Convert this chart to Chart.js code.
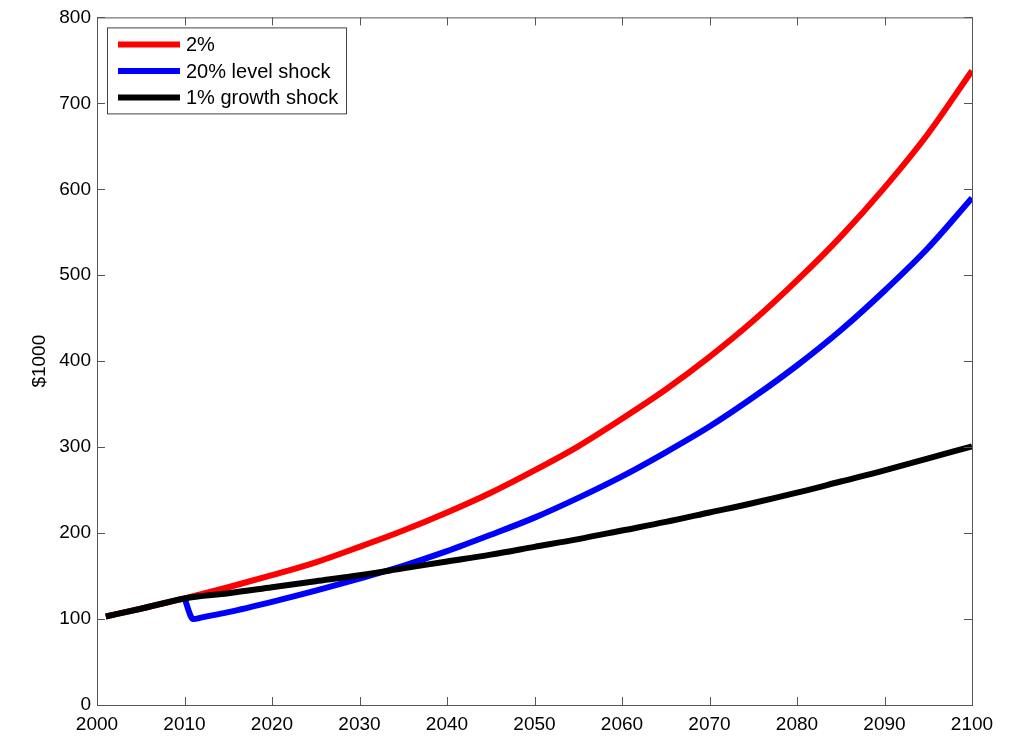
<!DOCTYPE html>
<html>
<head>
<meta charset="utf-8">
<style>
html,body{margin:0;padding:0;background:#fff;}
#wrap{width:1024px;height:743px;}
</style>
<script src="https://cdn.jsdelivr.net/npm/chart.js@4"></script>
</head>
<body>
<div id="wrap"><canvas id="c" width="1024" height="743"></canvas></div>
<script>
// Data
const redYears   = [2001,2005,2010,2015,2020,2025,2030,2035,2040,2045,2050,2055,2060,2065,2070,2075,2080,2085,2090,2095,2100];
const redValues  = [103, 112, 124, 137, 151, 166, 184, 203, 224, 247, 273, 301, 333, 367, 405, 447, 494, 545, 602, 665, 738];
const blueYears  = [2010,2011,2012,2015,2020,2025,2030,2035,2040,2045,2050,2055,2060,2065,2070,2075,2080,2085,2090,2095,2100];
const blueValues = [124, 100, 102, 108, 120, 133, 147, 162, 179, 198, 218, 241, 266, 294, 324, 358, 395, 436, 482, 532, 590];
const blackYears = [2001,2005,2010,2015,2020,2025,2030,2035,2040,2045,2050,2055,2060,2065,2070,2075,2080,2085,2090,2095,2100];
const blackValues= [103, 112, 124, 130, 137, 144, 151, 159, 167, 175, 184, 193, 203, 213, 224, 235, 247, 260, 273, 287, 301];
const seriesNames = ['2%','20% level shock','1% growth shock'];
const xTicks = [2000,2010,2020,2030,2040,2050,2060,2070,2080,2090,2100];
const yTicks = [0,100,200,300,400,500,600,700,800];

const pts = (xs, ys) => xs.map((x,i)=>({x:x, y:ys[i]}));
const FONT = "'Liberation Sans', Arial, sans-serif";

const boxPlugin = {
  id:'box',
  afterDraw(chart){
    const {ctx, chartArea:a, scales} = chart;
    ctx.save();
    ctx.strokeStyle = '#555';
    ctx.lineWidth = 1;
    ctx.strokeRect(a.left+0.5, a.top+0.5, a.right-a.left, a.bottom-a.top);
    const tl = 8;
    ctx.beginPath();
    xTicks.forEach(v=>{
      const px = Math.round(scales.x.getPixelForValue(v))+0.5;
      ctx.moveTo(px, a.bottom); ctx.lineTo(px, a.bottom-tl);
      ctx.moveTo(px, a.top); ctx.lineTo(px, a.top+tl);
    });
    yTicks.forEach(v=>{
      const py = Math.round(scales.y.getPixelForValue(v))+0.5;
      ctx.moveTo(a.left, py); ctx.lineTo(a.left+tl, py);
      ctx.moveTo(a.right, py); ctx.lineTo(a.right-tl, py);
    });
    ctx.stroke();
    // legend
    const lx = a.left+10, ly = a.top+10, lw = 239, lh = 86;
    ctx.fillStyle='#fff';
    ctx.fillRect(lx, ly, lw, lh);
    ctx.strokeStyle='#444';
    ctx.lineWidth = 1;
    ctx.strokeRect(lx+0.5, ly+0.5, lw, lh);
    ctx.font = '20px ' + FONT;
    ctx.textBaseline='middle';
    chart.data.datasets.forEach((ds,i)=>{
      const yy = ly + 17 + i*26.6;
      ctx.strokeStyle = ds.borderColor;
      ctx.lineWidth = 6;
      ctx.beginPath(); ctx.moveTo(lx+11, yy); ctx.lineTo(lx+73, yy); ctx.stroke();
      ctx.fillStyle='#000';
      ctx.fillText(ds.label, lx+79, yy+1);
    });
    ctx.restore();
  }
};

const common = {borderWidth:6, pointRadius:0, fill:false, cubicInterpolationMode:'monotone'};
new Chart(document.getElementById('c'), {
  type:'line',
  data:{datasets:[
    Object.assign({label:seriesNames[0], data:pts(redYears,redValues), borderColor:'#ff0000', order:3}, common),
    Object.assign({label:seriesNames[1], data:pts(blueYears,blueValues), borderColor:'#0000ff', order:2}, common),
    Object.assign({label:seriesNames[2], data:pts(blackYears,blackValues), borderColor:'#000000', order:1}, common)
  ]},
  options:{
    responsive:false, animation:false,
    layout:{padding:{left:28, top:15, right:52, bottom:0}},
    plugins:{legend:{display:false}, tooltip:{enabled:false}},
    scales:{
      x:{type:'linear', min:2000, max:2100,
        afterBuildTicks(s){ s.ticks = xTicks.map(v=>({value:v})); },
        afterFit(s){ s.height = 38; },
        grid:{display:false, drawTicks:false}, border:{display:false},
        ticks:{color:'#000', font:{family:FONT, size:19}, padding:8, maxRotation:0, autoSkip:false, callback:v=>String(v)}
      },
      y:{type:'linear', min:0, max:800,
        afterBuildTicks(s){ s.ticks = yTicks.map(v=>({value:v})); },
        afterFit(s){ s.width = 69; },
        grid:{display:false, drawTicks:false}, border:{display:false},
        ticks:{color:'#000', font:{family:FONT, size:19}, padding:6, autoSkip:false, callback:v=>String(v)},
        title:{display:true, text:'$1000', color:'#000', font:{family:FONT, size:19}, padding:{top:0,bottom:0}}
      }
    }
  },
  plugins:[boxPlugin]
});
</script>
</body>
</html>
